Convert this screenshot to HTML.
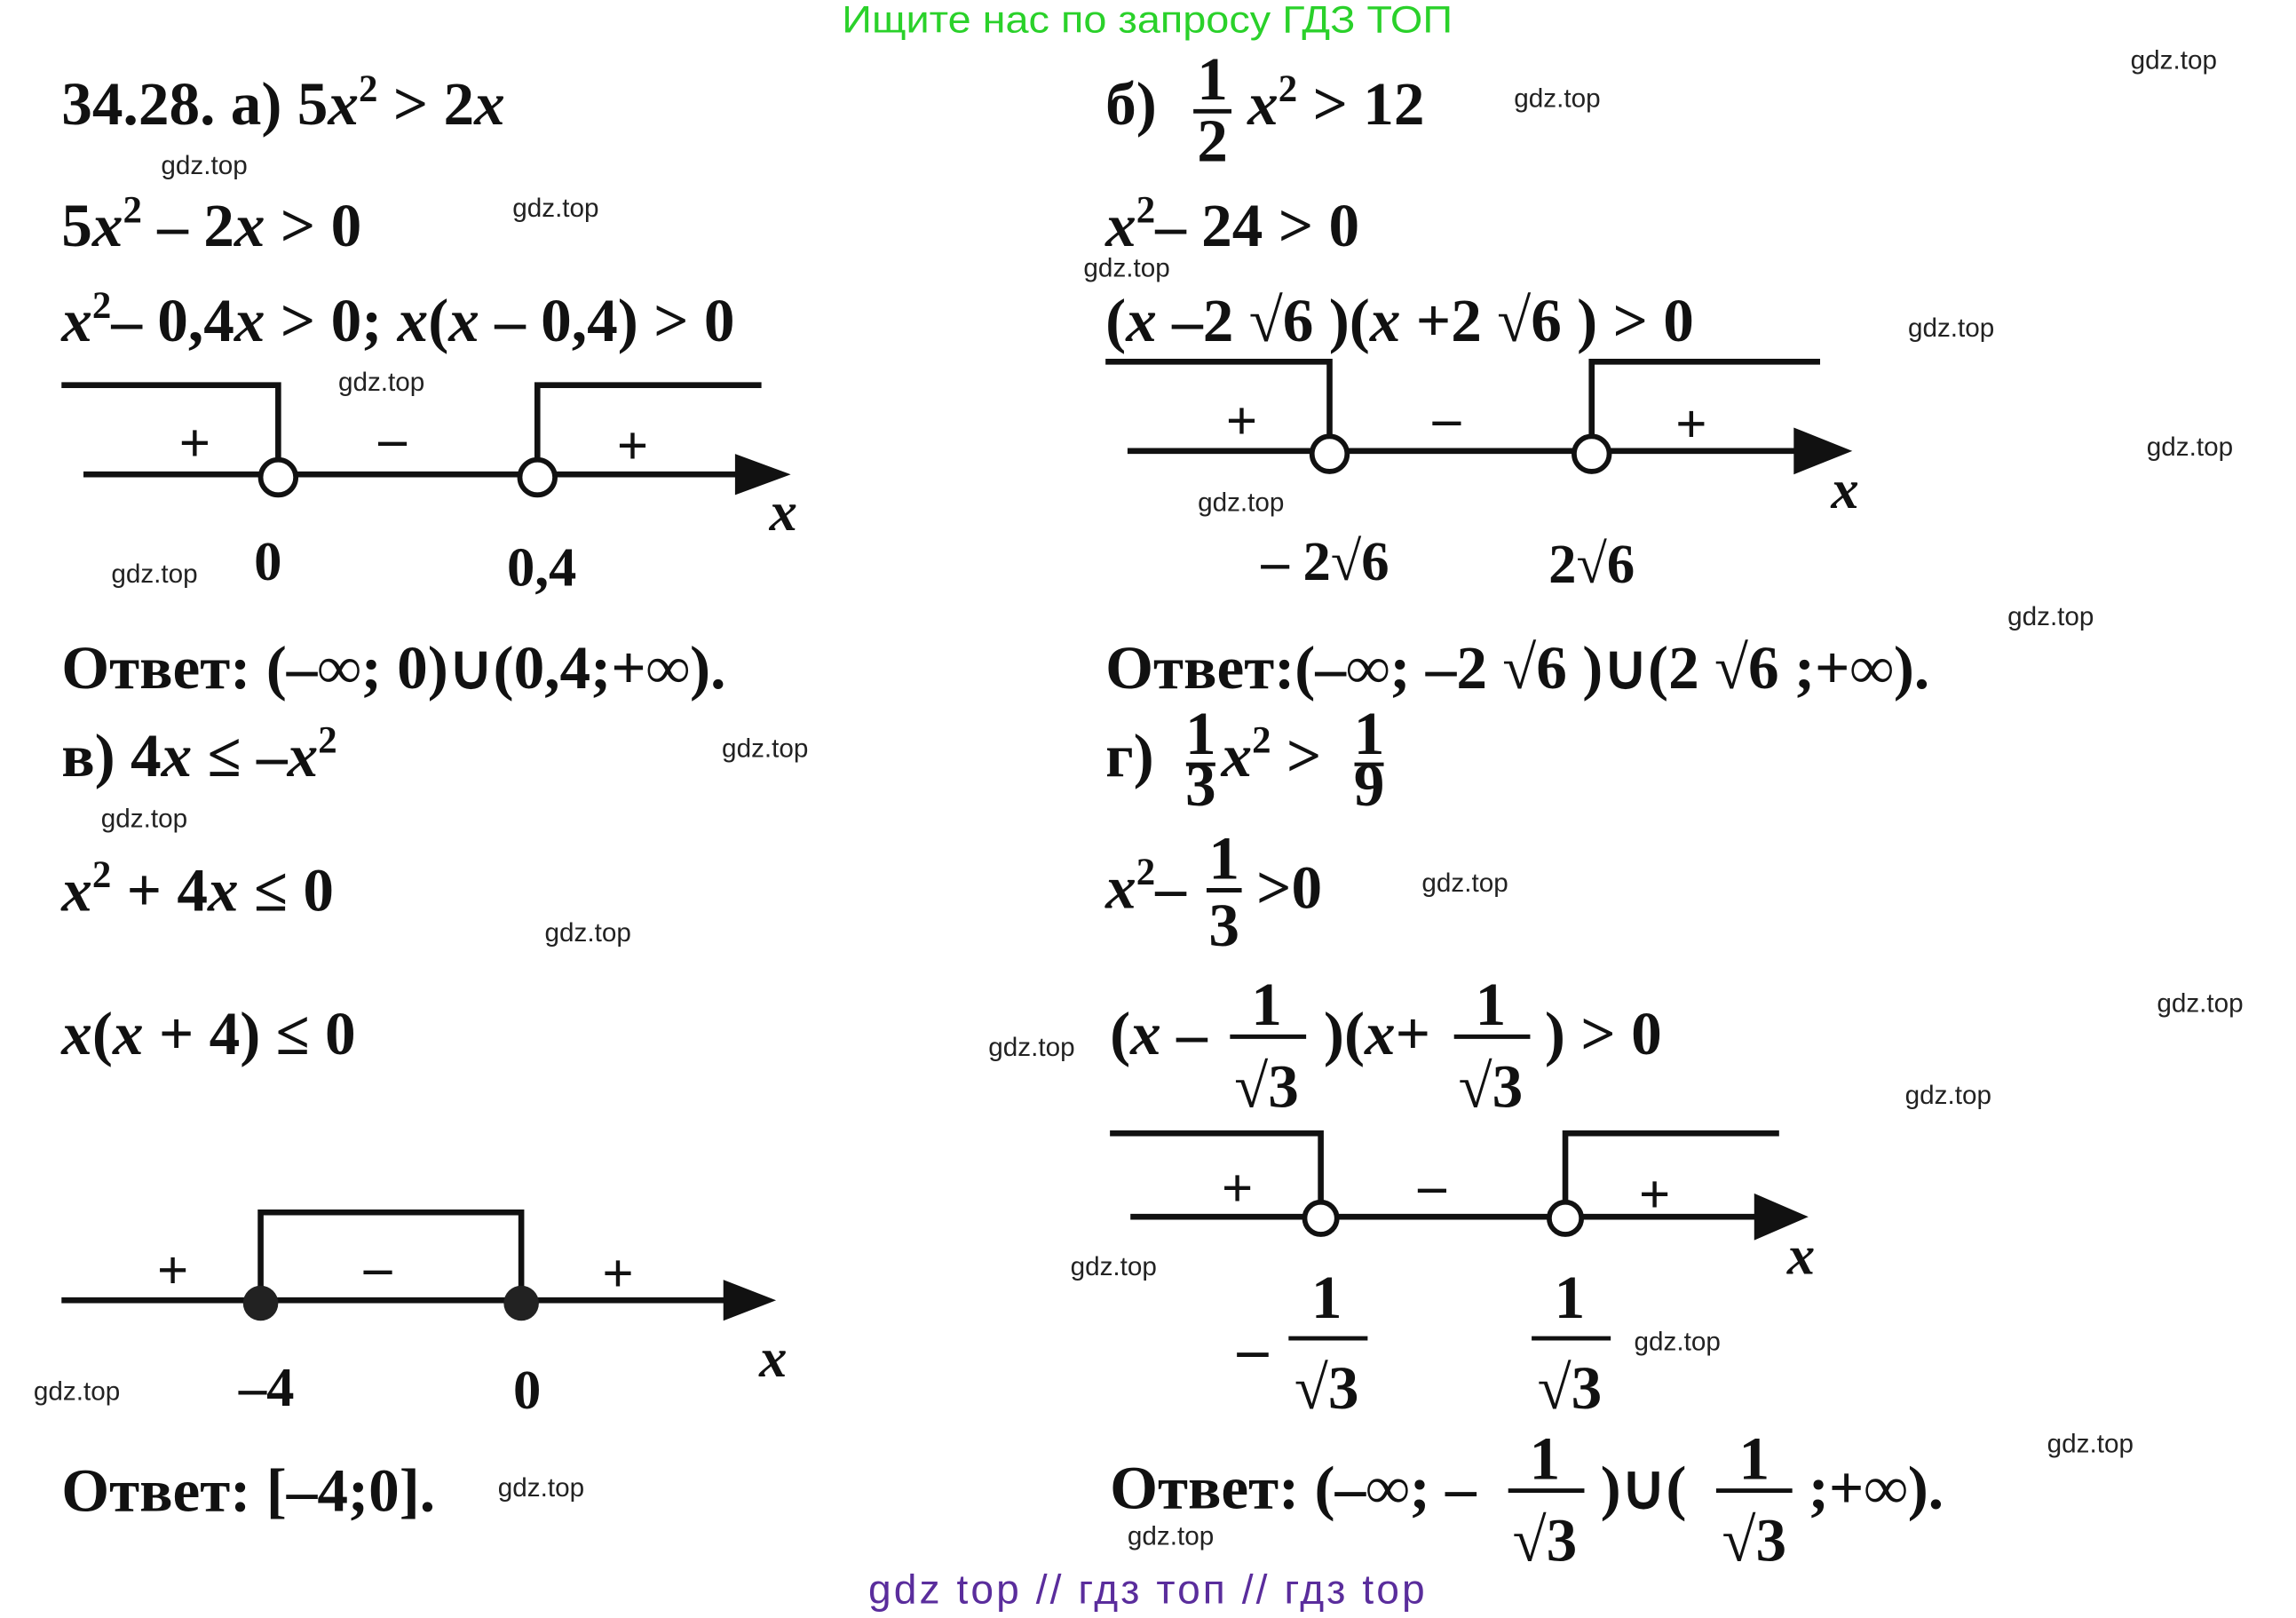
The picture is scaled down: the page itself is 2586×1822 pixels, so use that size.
<!DOCTYPE html>
<html><head><meta charset="utf-8"><style>
html,body{margin:0;padding:0;background:#fff;}
svg{display:block;}
.m{font-family:"Liberation Serif",serif;font-size:42px;font-weight:bold;fill:#111;}
.i{font-style:italic;}
.w{font-family:"Liberation Sans",sans-serif;font-size:18px;fill:#222;}
.s{font-family:"Liberation Serif",serif;font-size:38px;font-weight:bold;fill:#111;}
</style></head><body>
<svg width="2586" height="1822" viewBox="0 0 1568 1105" preserveAspectRatio="none" xmlns="http://www.w3.org/2000/svg">
<rect width="1568" height="1105" fill="#fff"/>
<text x="575" y="22" textLength="417" lengthAdjust="spacingAndGlyphs" font-family="Liberation Sans,sans-serif" font-size="26" fill="#2ad12a">Ищите нас по запросу ГДЗ ТОП</text>
<text x="593" y="1095" textLength="380" lengthAdjust="spacing" font-family="Liberation Sans,sans-serif" font-size="28" fill="#5a2d9c">gdz top // гдз топ // гдз top</text>

<g class="w">
<text x="1455" y="47">gdz.top</text><text x="1034" y="73">gdz.top</text>
<text x="110" y="119">gdz.top</text><text x="350" y="148">gdz.top</text>
<text x="740" y="189">gdz.top</text><text x="1303" y="230">gdz.top</text>
<text x="231" y="267">gdz.top</text><text x="1466" y="311">gdz.top</text>
<text x="818" y="349">gdz.top</text><text x="76" y="398">gdz.top</text>
<text x="1371" y="427">gdz.top</text><text x="493" y="517">gdz.top</text>
<text x="69" y="565">gdz.top</text><text x="971" y="609">gdz.top</text>
<text x="372" y="643">gdz.top</text><text x="1473" y="691">gdz.top</text>
<text x="675" y="721">gdz.top</text><text x="1301" y="754">gdz.top</text>
<text x="731" y="871">gdz.top</text><text x="1116" y="922">gdz.top</text>
<text x="23" y="956">gdz.top</text><text x="1398" y="992">gdz.top</text>
<text x="340" y="1022">gdz.top</text><text x="770" y="1055">gdz.top</text>
</g>

<text class="m" x="42" y="85">34.28. а) 5<tspan class="i">x</tspan><tspan dy="-16" font-size="26">2</tspan><tspan dy="16"> &gt; 2</tspan><tspan class="i">x</tspan></text>
<text class="m" x="42" y="168">5<tspan class="i">x</tspan><tspan dy="-16" font-size="26">2</tspan><tspan dy="16"> – 2</tspan><tspan class="i">x</tspan> &gt; 0</text>
<text class="m" x="42" y="233"><tspan class="i">x</tspan><tspan dy="-16" font-size="26">2</tspan><tspan dy="16">– 0,4</tspan><tspan class="i">x</tspan> &gt; 0; <tspan class="i">x</tspan>(<tspan class="i">x</tspan> – 0,4) &gt; 0</text>

<g stroke="#111" stroke-width="4" fill="none">
<polyline points="42,263 190,263 190,324"/><polyline points="367,324 367,263 520,263"/>
<line x1="57" y1="324" x2="510" y2="324"/>
<polyline points="178,888 178,828 356,828 356,888"/>
<line x1="42" y1="888" x2="500" y2="888"/>
<polyline points="755,247 908,247 908,308"/><polyline points="1087,308 1087,247 1243,247"/>
<line x1="770" y1="308" x2="1230" y2="308"/>
<polyline points="758,774 902,774 902,831"/><polyline points="1069,831 1069,774 1215,774"/>
<line x1="772" y1="831" x2="1200" y2="831"/>
</g>
<g fill="#111">
<polygon points="502,310 540,324 502,338"/>
<polygon points="494,874 530,888 494,902"/>
<polygon points="1225,292 1265,308 1225,324"/>
<polygon points="1198,815 1235,831 1198,847"/>
</g>
<g stroke="#111" stroke-width="3.5" fill="#fff">
<circle cx="190" cy="326" r="12"/><circle cx="367" cy="326" r="12"/>
<circle cx="908" cy="310" r="12"/><circle cx="1087" cy="310" r="12"/>
<circle cx="902" cy="832" r="11"/><circle cx="1069" cy="832" r="11"/>
</g>
<g fill="#222"><circle cx="178" cy="890" r="12"/><circle cx="356" cy="890" r="12"/></g>

<g class="s" text-anchor="middle">
<text x="133" y="315">+</text><text x="268" y="312">–</text><text x="432" y="317">+</text>
<text x="118" y="880">+</text><text x="258" y="878">–</text><text x="422" y="882">+</text>
<text x="848" y="300">+</text><text x="988" y="298">–</text><text x="1155" y="302">+</text>
<text x="845" y="824">+</text><text x="978" y="822">–</text><text x="1130" y="828">+</text>
<text x="535" y="362" class="i">x</text><text x="528" y="940" class="i">x</text>
<text x="1260" y="347" class="i">x</text><text x="1230" y="870" class="i">x</text>
<text x="183" y="396">0</text><text x="370" y="400">0,4</text>
<text x="182" y="960">–4</text><text x="360" y="962">0</text>
<text x="905" y="396">– 2√6</text><text x="1087" y="398">2√6</text>
</g>

<text class="m" x="42" y="470">Ответ: (–∞; 0)∪(0,4;+∞).</text>
<text class="m" x="42" y="530">в) 4<tspan class="i">x</tspan> ≤ –<tspan class="i">x</tspan><tspan dy="-16" font-size="26">2</tspan></text>
<text class="m" x="42" y="622"><tspan class="i">x</tspan><tspan dy="-16" font-size="26">2</tspan><tspan dy="16"> + 4</tspan><tspan class="i">x</tspan> ≤ 0</text>
<text class="m" x="42" y="720"><tspan class="i">x</tspan>(<tspan class="i">x</tspan> + 4) ≤ 0</text>
<text class="m" x="42" y="1032">Ответ: [–4;0].</text>

<text class="m" x="755" y="85">б)</text>
<text class="m" x="828" y="68" text-anchor="middle" font-size="34">1</text>
<line x1="815" y1="76" x2="841" y2="76" stroke="#111" stroke-width="3"/>
<text class="m" x="828" y="110" text-anchor="middle" font-size="34">2</text>
<text class="m" x="852" y="85"><tspan class="i">x</tspan><tspan dy="-16" font-size="26">2</tspan><tspan dy="16"> &gt; 12</tspan></text>
<text class="m" x="755" y="168"><tspan class="i">x</tspan><tspan dy="-16" font-size="26">2</tspan><tspan dy="16">– 24 &gt; 0</tspan></text>
<text class="m" x="755" y="233">(<tspan class="i">x</tspan> –2 √6 )(<tspan class="i">x</tspan> +2 √6 ) &gt; 0</text>
<text class="m" x="755" y="470">Ответ:(–∞; –2 √6 )∪(2 √6 ;+∞).</text>

<text class="m" x="755" y="530">г)</text>
<text class="m" x="820" y="515" text-anchor="middle" font-size="28">1</text>
<line x1="810" y1="522" x2="830" y2="522" stroke="#111" stroke-width="2.5"/>
<text class="m" x="820" y="550" text-anchor="middle" font-size="28">3</text>
<text class="m" x="834" y="530"><tspan class="i">x</tspan><tspan dy="-16" font-size="26">2</tspan><tspan dy="16"> &gt;</tspan></text>
<text class="m" x="935" y="515" text-anchor="middle" font-size="28">1</text>
<line x1="925" y1="522" x2="945" y2="522" stroke="#111" stroke-width="2.5"/>
<text class="m" x="935" y="550" text-anchor="middle" font-size="28">9</text>

<text class="m" x="755" y="620"><tspan class="i">x</tspan><tspan dy="-16" font-size="26">2</tspan><tspan dy="16">–</tspan></text>
<text class="m" x="836" y="600" text-anchor="middle" font-size="34">1</text>
<line x1="824" y1="608" x2="848" y2="608" stroke="#111" stroke-width="3"/>
<text class="m" x="836" y="646" text-anchor="middle" font-size="34">3</text>
<text class="m" x="858" y="620">&gt;0</text>

<text class="m" x="758" y="720">(<tspan class="i">x</tspan> –</text>
<text class="m" x="865" y="700" text-anchor="middle" font-size="34">1</text>
<line x1="840" y1="708" x2="892" y2="708" stroke="#111" stroke-width="3"/>
<text class="m" x="865" y="756" text-anchor="middle" font-size="36">√3</text>
<text class="m" x="904" y="720">)(<tspan class="i">x</tspan>+</text>
<text class="m" x="1018" y="700" text-anchor="middle" font-size="34">1</text>
<line x1="993" y1="708" x2="1045" y2="708" stroke="#111" stroke-width="3"/>
<text class="m" x="1018" y="756" text-anchor="middle" font-size="36">√3</text>
<text class="m" x="1055" y="720">) &gt; 0</text>

<text class="m" x="845" y="935" font-size="34">–</text>
<text class="m" x="906" y="900" text-anchor="middle" font-size="34">1</text>
<line x1="880" y1="914" x2="934" y2="914" stroke="#111" stroke-width="3"/>
<text class="m" x="906" y="962" text-anchor="middle" font-size="36">√3</text>
<text class="m" x="1072" y="900" text-anchor="middle" font-size="34">1</text>
<line x1="1046" y1="914" x2="1100" y2="914" stroke="#111" stroke-width="3"/>
<text class="m" x="1072" y="962" text-anchor="middle" font-size="36">√3</text>

<text class="m" x="758" y="1030">Ответ: (–∞; –</text>
<text class="m" x="1055" y="1010" text-anchor="middle" font-size="34">1</text>
<line x1="1030" y1="1018" x2="1082" y2="1018" stroke="#111" stroke-width="3"/>
<text class="m" x="1055" y="1066" text-anchor="middle" font-size="36">√3</text>
<text class="m" x="1093" y="1030">)∪(</text>
<text class="m" x="1198" y="1010" text-anchor="middle" font-size="34">1</text>
<line x1="1172" y1="1018" x2="1224" y2="1018" stroke="#111" stroke-width="3"/>
<text class="m" x="1198" y="1066" text-anchor="middle" font-size="36">√3</text>
<text class="m" x="1235" y="1030">;+∞).</text>
</svg>
</body></html>
